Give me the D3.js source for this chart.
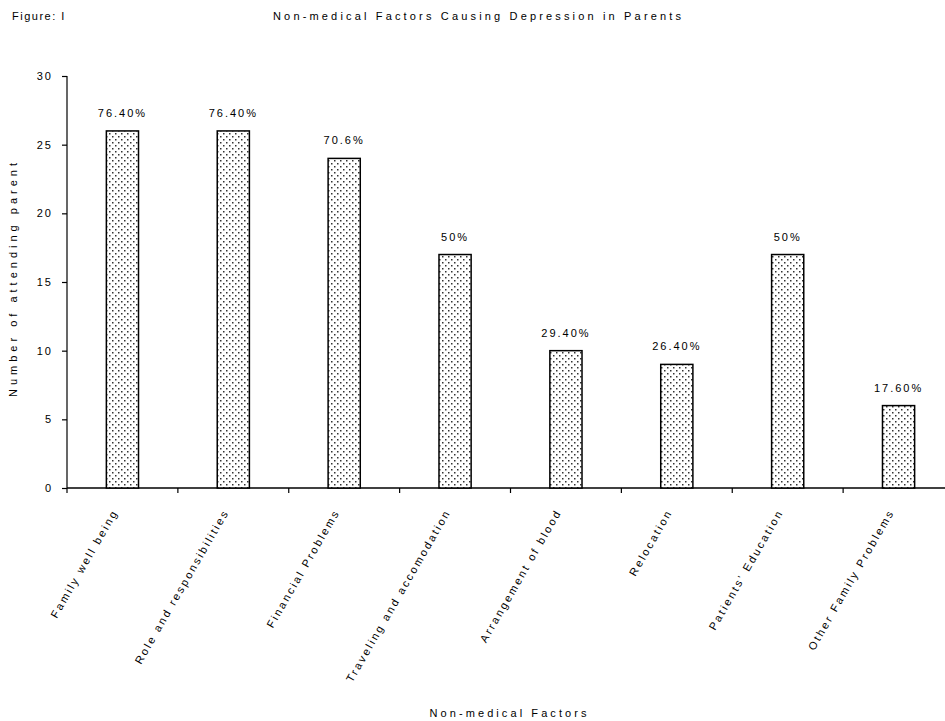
<!DOCTYPE html>
<html><head><meta charset="utf-8">
<script src="https://cdn.jsdelivr.net/npm/d3@7"></script>
<style>
body{margin:0;background:#fff;}
text{font-family:"Liberation Sans",Arial,sans-serif;fill:#000;}
</style></head>
<body><svg id="c" width="945" height="721"></svg>
<script>
const categories = ["Family well being","Role and responsibilities","Financial Problems","Traveling and accomodation","Arrangement of blood","Relocation","Patients' Education","Other Family Problems"];
const values = [26,26,24,17,10,9,17,6];
const valueLabels = ["76.40%","76.40%","70.6%","50%","29.40%","26.40%","50%","17.60%"];
const yTicks = [0,5,10,15,20,25,30];

const svg = d3.select("#c");
const x0 = 67, x1 = 954, yTop = 76, yBot = 488;
const x = d3.scaleBand().domain(categories).range([x0, x1]).padding(0);
const y = d3.scaleLinear().domain([0,30]).range([yBot, yTop]);

const defs = svg.append("defs");
const pat = defs.append("pattern").attr("id","dots").attr("patternUnits","userSpaceOnUse")
  .attr("width",6).attr("height",6);
pat.append("rect").attr("width",6).attr("height",6).attr("fill","#fff");
pat.append("rect").attr("x",1).attr("y",1).attr("width",1.5).attr("height",1.5).attr("fill","#333");
pat.append("rect").attr("x",4).attr("y",4).attr("width",1.5).attr("height",1.5).attr("fill","#333");

// titles
svg.append("text").attr("x",12).attr("y",20).attr("font-size",11).attr("letter-spacing",1.5).text("Figure: I");
svg.append("text").attr("x",477).attr("y",20).attr("text-anchor","middle").attr("font-size",11)
  .attr("textLength",408).attr("lengthAdjust","spacing").text("Non-medical Factors Causing Depression in Parents");

// y axis
const yAxis = svg.append("g").attr("transform",`translate(${x0},0)`)
  .call(d3.axisLeft(y).tickValues(yTicks).tickSize(5).tickPadding(9));
yAxis.select(".domain").attr("stroke","#000").attr("stroke-width",1.2).attr("d",`M0,${yTop}V${yBot}`);
yAxis.selectAll(".tick line").attr("stroke","#000").attr("stroke-width",1.2);
yAxis.selectAll(".tick text").attr("font-size",11).attr("letter-spacing",2).attr("font-family","Liberation Sans, Arial, sans-serif").attr("fill","#000");

svg.append("text").attr("transform",`translate(17,280) rotate(-90)`).attr("text-anchor","middle")
  .attr("font-size",11).attr("textLength",234).attr("lengthAdjust","spacing").text("Number of attending parent");

// x axis
svg.append("line").attr("x1",x0).attr("x2",x1).attr("y1",yBot).attr("y2",yBot).attr("stroke","#000").attr("stroke-width",1.5);
svg.selectAll(".xt").data(categories).enter().append("line")
  .attr("x1",d=>x(d)).attr("x2",d=>x(d)).attr("y1",yBot).attr("y2",yBot+5).attr("stroke","#000").attr("stroke-width",1.2);

// bars
const bw = x.bandwidth()*0.29;
svg.selectAll(".bar").data(categories).enter().append("rect")
  .attr("x",d=>x(d)+x.bandwidth()/2-bw/2)
  .attr("y",(d,i)=>y(values[i]))
  .attr("width",bw)
  .attr("height",(d,i)=>yBot-y(values[i]))
  .attr("fill","url(#dots)").attr("stroke","#000").attr("stroke-width",1.5);

svg.selectAll(".vl").data(categories).enter().append("text")
  .attr("x",d=>x(d)+x.bandwidth()/2).attr("y",(d,i)=>y(values[i])-14)
  .attr("text-anchor","middle").attr("font-size",11).attr("letter-spacing",2)
  .text((d,i)=>valueLabels[i]);

// category labels
svg.selectAll(".cl").data(categories).enter().append("text")
  .attr("transform",d=>`translate(${x(d)+x.bandwidth()/2-4},${yBot+24}) rotate(-60)`)
  .attr("text-anchor","end").attr("font-size",11).attr("letter-spacing",2.3)
  .text(d=>d);

svg.append("text").attr("x",508).attr("y",717).attr("text-anchor","middle").attr("font-size",11)
  .attr("textLength",157).attr("lengthAdjust","spacing").text("Non-medical Factors");
</script></body></html>
